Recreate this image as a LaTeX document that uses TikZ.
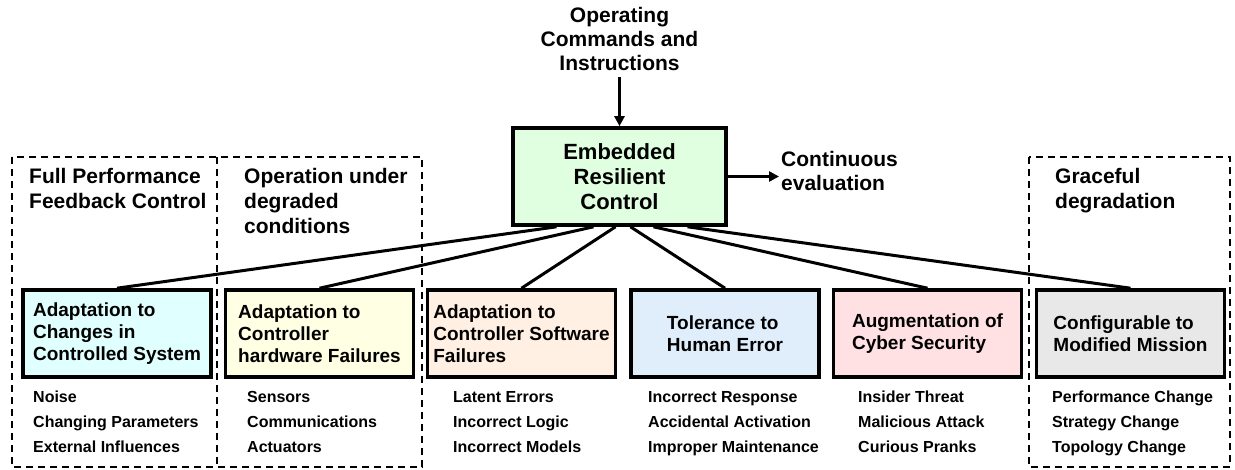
\documentclass[tikz,border=0pt]{standalone}
\usepackage{fontspec}
\setmainfont{Liberation Sans}
\usetikzlibrary{arrows.meta}
\definecolor{ctrlgreen}{HTML}{E0FFE0}
\definecolor{boxcyan}{HTML}{E0FFFF}
\definecolor{boxyellow}{HTML}{FFFFE3}
\definecolor{boxpeach}{HTML}{FFF0E3}
\definecolor{boxblue}{HTML}{E0EEFC}
\definecolor{boxpink}{HTML}{FFE0E3}
\definecolor{boxgrey}{HTML}{E8E8E8}
\begin{document}
\begin{tikzpicture}[x=1pt, y=-1pt, >={Triangle[length=10pt, width=10pt]}]
                \tikzset{box/.style={draw, line width=3.6pt, minimum width=188pt, minimum height=87pt, align=left, inner sep=2pt, font=\bfseries\fontsize{19}{22}\selectfont}}
                \tikzset{head/.style={anchor=north west, align=left, inner sep=0pt, font=\bfseries\fontsize{21}{25}\selectfont}}
                \tikzset{items/.style={anchor=north west, align=left, inner sep=0pt, font=\bfseries\fontsize{16}{25}\selectfont}}
                \tikzset{zone/.style={line width=2.2pt, dash pattern=on 7pt off 5pt}}
                \tikzset{link/.style={line width=3pt}}
                \useasboundingbox (0,0) rectangle (1235,469);
                % dashed zones
                \draw[zone] (12,157) rectangle (422,467);
                \draw[zone] (217,157) -- (217,467);
                \draw[zone] (1029,157) rectangle (1230,467);
                \node[head] (h1) at (29,168) {Full Performance\\Feedback Control};
                \node[head] (h2) at (244,168) {Operation under\\degraded\\conditions};
                \node[head] (h3) at (1055,168) {Graceful\\degradation};
                % centre
                \node[box, fill=ctrlgreen, minimum width=213pt, minimum height=97pt, align=center, font=\bfseries\fontsize{22}{25}\selectfont] (ctrl) at (619.5,176.5) {Embedded\\Resilient\\Control};
                \node[anchor=south, align=center, inner sep=0pt, font=\bfseries\fontsize{21}{24}\selectfont] (cmd) at (619.5,71) {Operating\\Commands and\\Instructions};
                \node[anchor=west, align=left, inner sep=2pt, font=\bfseries\fontsize{21}{24}\selectfont] (eval) at (779,171) {Continuous\\evaluation};
                \draw[->, link, shorten <=6pt] (cmd.south) -- (ctrl.north);
                \draw[->, link] (ctrl.east) -- (ctrl.east -| eval.west);
                % categories
                \node[box, fill=boxcyan] (b1) at (117,333.5) {Adaptation to\\Changes in\\Controlled System};
                \node[box, fill=boxyellow] (b2) at (319.5,333.5) {Adaptation to\\Controller\\hardware Failures};
                \node[box, fill=boxpeach] (b3) at (521.5,333.5) {Adaptation to\\Controller Software\\Failures};
                \node[box, fill=boxblue] (b4) at (725,333.5) {Tolerance to\\Human Error};
                \node[box, fill=boxpink] (b5) at (927.5,333.5) {Augmentation of\\Cyber Security};
                \node[box, fill=boxgrey] (b6) at (1130.5,333.5) {Configurable to\\Modified Mission};
                \foreach \nm/\dx in {b1/-63, b2/-26, b3/-4, b4/11, b5/34, b6/68} {
                    \draw[link] ([xshift=\dx pt]ctrl.south) -- (\nm.north);
                }
                % examples
                \node[items] (i1) at (33,391) {Noise\\Changing Parameters\\External Influences};
                \node[items] (i2) at (247,391) {Sensors\\Communications\\Actuators};
                \node[items] (i3) at (453,391) {Latent Errors\\Incorrect Logic\\Incorrect Models};
                \node[items] (i4) at (648,391) {Incorrect Response\\Accidental Activation\\Improper Maintenance};
                \node[items] (i5) at (858,391) {Insider Threat\\Malicious Attack\\Curious Pranks};
                \node[items] (i6) at (1052,391) {Performance Change\\Strategy Change\\Topology Change};
            \end{tikzpicture}
\end{document}
